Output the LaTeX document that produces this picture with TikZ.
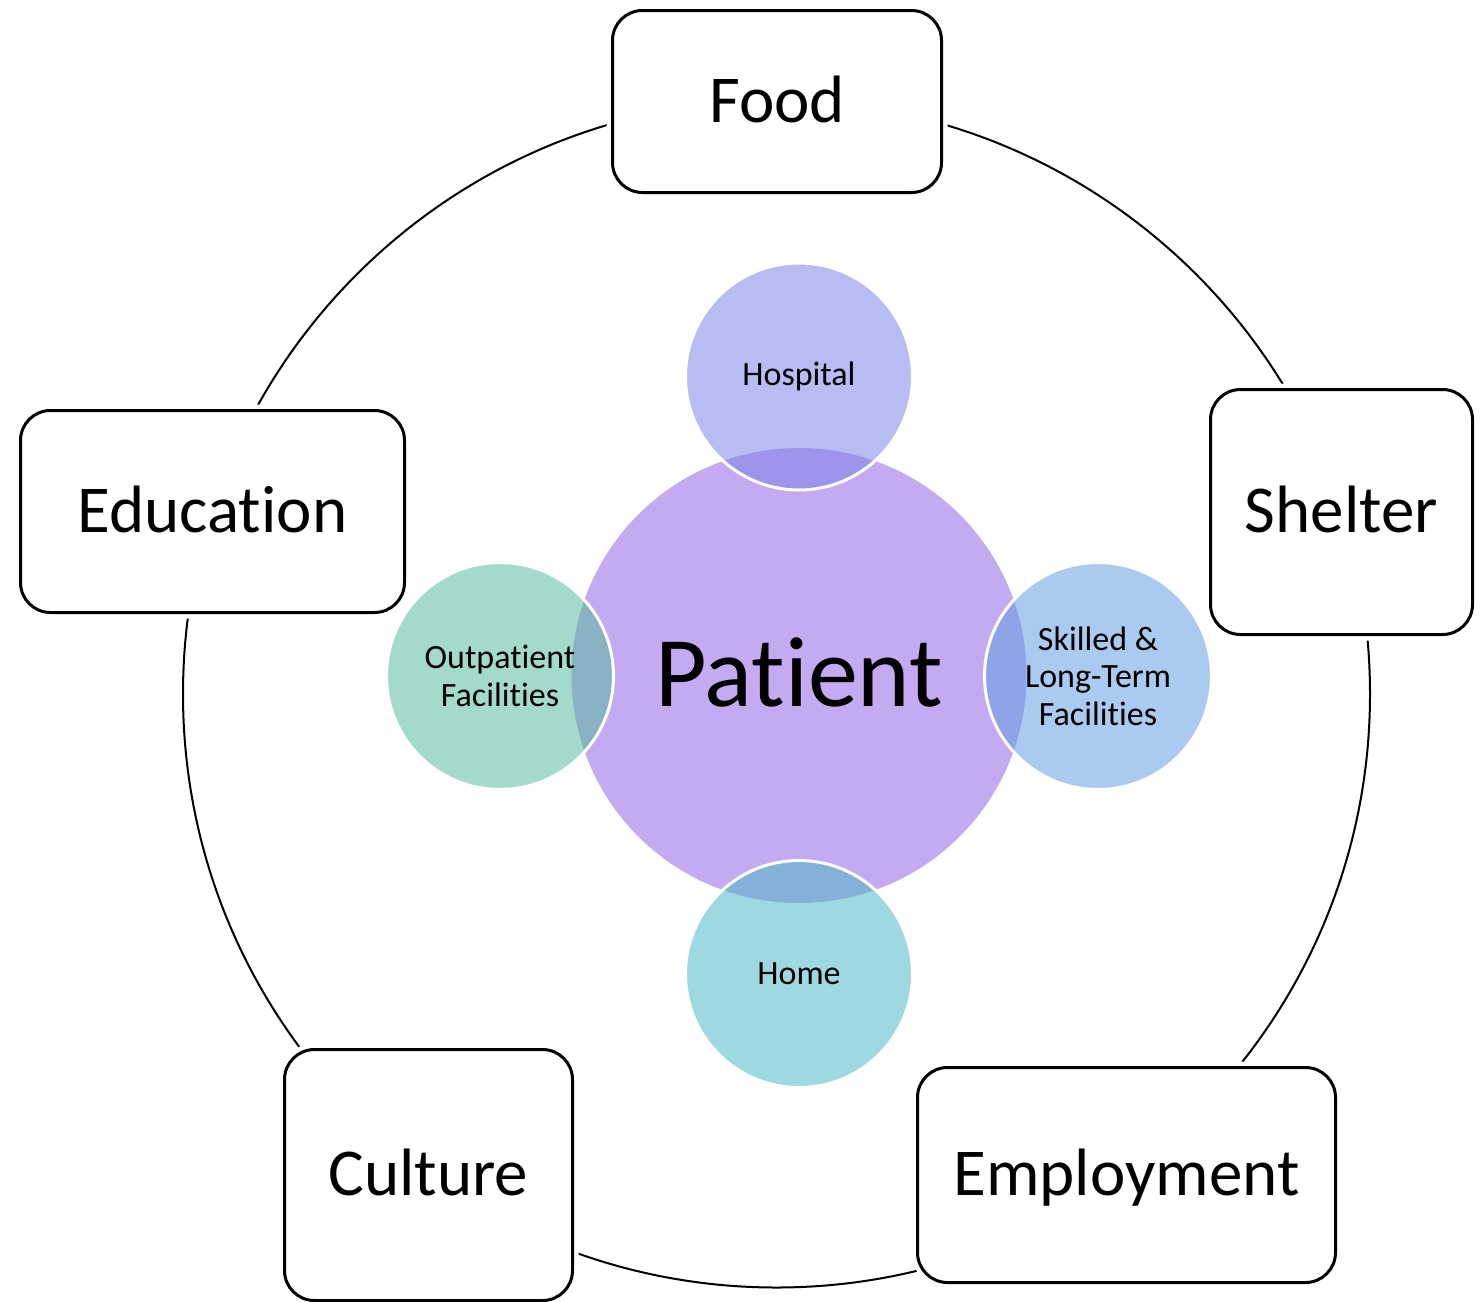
\documentclass[tikz,border=0pt]{standalone}
\usepackage{fontspec}
\setmainfont{Carlito}[Ligatures=NoCommon]
\definecolor{patientc}{RGB}{196,170,240}
\definecolor{hospc}{RGB}{124,133,231}
\definecolor{outc}{RGB}{90,188,160}
\definecolor{skillc}{RGB}{100,159,228}
\definecolor{homec}{RGB}{79,184,200}
\begin{document}
\begin{tikzpicture}[x=1pt,y=-1pt,
  ringline/.style={line width=2pt, black},
  boxnode/.style={draw=black, line width=3pt, rounded corners=30pt, fill=white,
    preaction={draw=white, line width=12pt},
    font=\fontsize{67}{80}\selectfont, text height=41pt, text depth=0pt, inner sep=0pt},
  centrenode/.style={circle, fill=patientc, minimum size=455pt, inner sep=0pt,
    font=\fontsize{100}{120}\selectfont, text height=61pt, text depth=0pt},
  satnode/.style={circle, draw=white, line width=3pt, fill=#1, fill opacity=0.55,
    text opacity=1, minimum size=227pt, inner sep=0pt, align=center,
    font=\fontsize{34}{37.5}\selectfont}
]
\useasboundingbox (0,0) rectangle (1483,1301);
\draw[ringline] (776.5,694) circle[radius=593.5];
\node[boxnode, minimum width=329pt, minimum height=182pt] (food) at (777,101.5) {Food};
\node[boxnode, minimum width=262pt, minimum height=245pt] (shelter) at (1341.5,512) {Shelter};
\node[boxnode, minimum width=384pt, minimum height=202pt] (education) at (212.5,511.5) {Education};
\node[boxnode, minimum width=288pt, minimum height=251pt] (culture) at (428.5,1175) {Culture};
\node[boxnode, minimum width=418pt, minimum height=215pt] (employment) at (1126.5,1175) {Employment};
\node[centrenode] (patient) at (799,675.5) {Patient};
\node[satnode=hospc] (hospital) at (799,376.5) {Hospital};
\node[satnode=homec] (home) at (799,974) {Home};
\node[satnode=outc] (outpatient) at (500,676) {Outpatient\\Facilities};
\node[satnode=skillc] (skilled) at (1098,676) {Skilled \&\\Long-Term\\Facilities};
\end{tikzpicture}
\end{document}
